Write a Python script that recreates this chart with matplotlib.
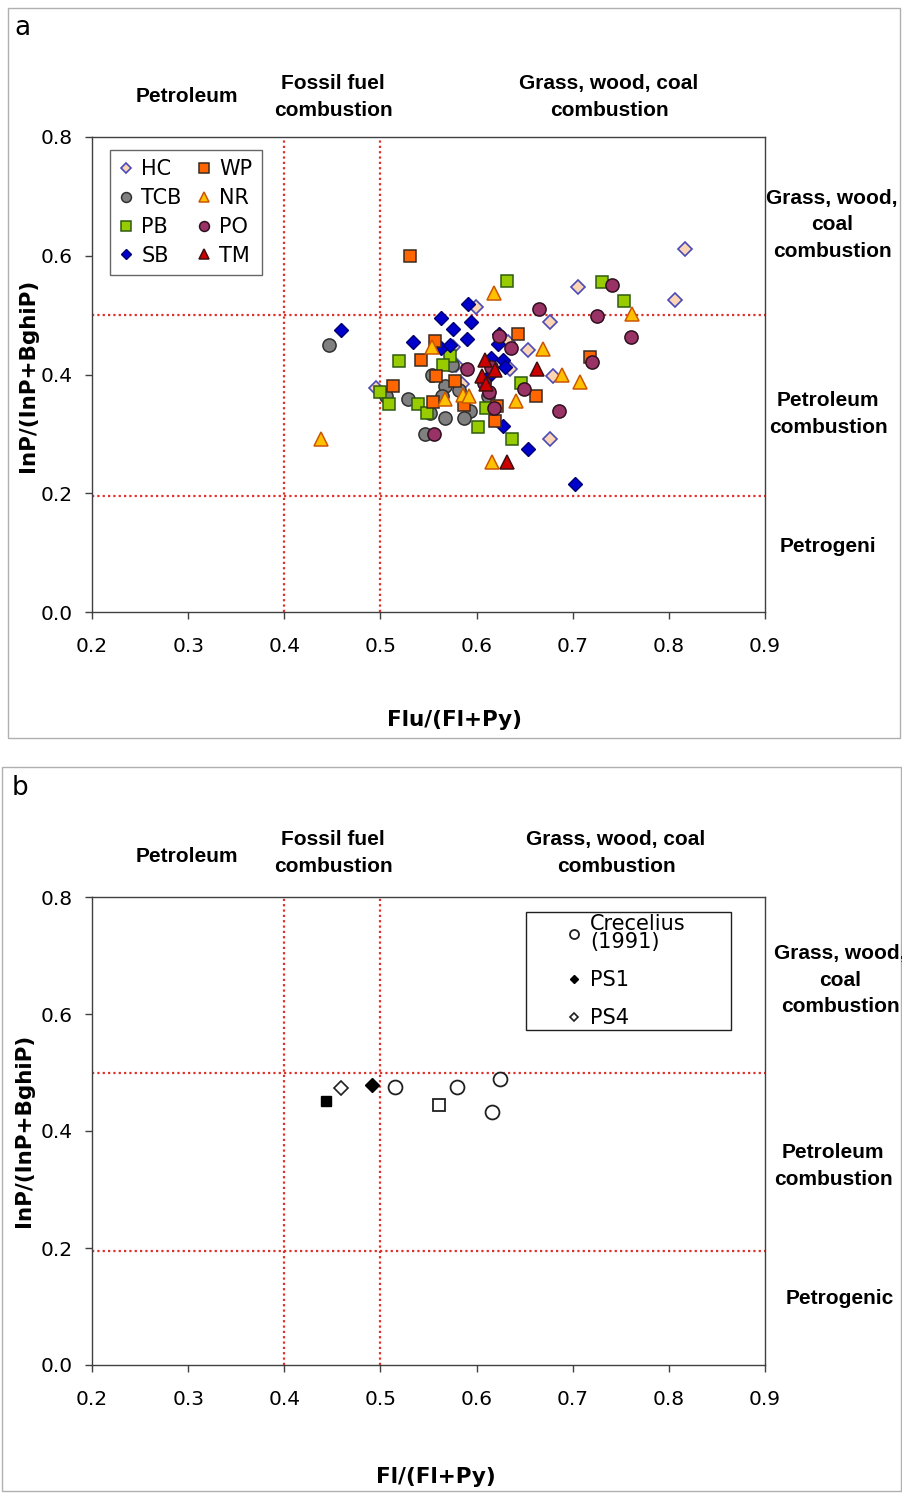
import matplotlib
matplotlib.use("Agg")
import matplotlib.pyplot as plt
from matplotlib.patches import Rectangle

# ---------------- Panel a data ----------------
hc_x = [0.599, 0.495, 0.633, 0.654, 0.676, 0.705, 0.635, 0.679, 0.676, 0.817, 0.806, 0.585, 0.576, 0.579]
hc_y = [0.513, 0.377, 0.454, 0.441, 0.489, 0.548, 0.409, 0.398, 0.291, 0.612, 0.525, 0.384, 0.447, 0.416]

wp_x = [0.531, 0.557, 0.542, 0.558, 0.578, 0.513, 0.555, 0.587, 0.643, 0.718, 0.662, 0.621, 0.619]
wp_y = [0.600, 0.457, 0.424, 0.397, 0.389, 0.381, 0.353, 0.348, 0.468, 0.430, 0.363, 0.347, 0.322]

tcb_x = [0.446, 0.574, 0.554, 0.567, 0.582, 0.506, 0.564, 0.529, 0.593, 0.552, 0.567, 0.587, 0.546, 0.612]
tcb_y = [0.449, 0.416, 0.399, 0.381, 0.374, 0.363, 0.363, 0.359, 0.338, 0.336, 0.327, 0.327, 0.300, 0.363]

nr_x = [0.438, 0.554, 0.567, 0.586, 0.592, 0.618, 0.762, 0.669, 0.689, 0.708, 0.641, 0.616]
nr_y = [0.292, 0.446, 0.359, 0.366, 0.364, 0.537, 0.502, 0.443, 0.399, 0.388, 0.356, 0.253]

pb_x = [0.572, 0.519, 0.565, 0.500, 0.509, 0.539, 0.548, 0.602, 0.632, 0.730, 0.753, 0.646, 0.610, 0.637]
pb_y = [0.432, 0.422, 0.416, 0.370, 0.351, 0.351, 0.336, 0.311, 0.558, 0.556, 0.523, 0.386, 0.344, 0.292]

po_x = [0.590, 0.556, 0.741, 0.725, 0.665, 0.761, 0.623, 0.636, 0.720, 0.608, 0.649, 0.613, 0.618, 0.686, 0.615]
po_y = [0.409, 0.299, 0.550, 0.499, 0.511, 0.463, 0.465, 0.445, 0.421, 0.385, 0.376, 0.370, 0.344, 0.339, 0.412]

sb_x = [0.591, 0.563, 0.594, 0.459, 0.575, 0.590, 0.534, 0.563, 0.572, 0.623, 0.622, 0.615, 0.628, 0.630, 0.613, 0.627, 0.653, 0.702]
sb_y = [0.519, 0.495, 0.489, 0.475, 0.476, 0.460, 0.454, 0.444, 0.449, 0.469, 0.451, 0.427, 0.425, 0.412, 0.398, 0.313, 0.275, 0.215]

tm_x = [0.609, 0.619, 0.606, 0.610, 0.663, 0.632]
tm_y = [0.425, 0.408, 0.397, 0.384, 0.409, 0.253]

# ---------------- Panel b data ----------------
crec_x = [0.515, 0.580, 0.624, 0.616]
crec_y = [0.475, 0.475, 0.489, 0.432]
ps1_x = [0.491]
ps1_y = [0.479]
ps4_x = [0.459]
ps4_y = [0.473]
fsq_x = [0.4435]
fsq_y = [0.451]
osq_x = [0.561]
osq_y = [0.444]

xticks = [0.2, 0.3, 0.4, 0.5, 0.6, 0.7, 0.8, 0.9]
yticks = [0.0, 0.2, 0.4, 0.6, 0.8]
vlines = [0.4, 0.5]
hlines = [0.5, 0.195]

W, H = 903, 1493
fig = plt.figure(figsize=(W / 100, H / 100), dpi=100)
fig.patch.set_facecolor("white")

def fx(px):
    return px / W

def fy(py):
    return 1 - py / H

# panel frames
fig.patches.append(Rectangle((fx(8), fy(738)), fx(892), (738 - 8) / H, transform=fig.transFigure,
                             fill=False, edgecolor="#b0b0b0", lw=1.0))
fig.patches.append(Rectangle((fx(2), fy(1491)), fx(899), (1491 - 767) / H, transform=fig.transFigure,
                             fill=False, edgecolor="#b0b0b0", lw=1.0))

tick_font = dict(family="DejaVu Sans", size=14.5)
ann_font = dict(family="Liberation Sans", weight="bold", size=15)
LS = 1.5

def setup_axes(ax):
    ax.set_xlim(0.2, 0.9)
    ax.set_ylim(0.0, 0.8)
    ax.set_xticks(xticks)
    ax.set_yticks(yticks)
    ax.set_xticklabels([f"{v:.1f}" for v in xticks], **tick_font)
    ax.set_yticklabels([f"{v:.1f}" for v in yticks], **tick_font)
    ax.tick_params(direction="out", length=5, width=1, color="#404040")
    ax.tick_params(axis="x", pad=13)
    ax.tick_params(axis="y", pad=9)
    for s in ax.spines.values():
        s.set_color("#404040")
        s.set_linewidth(1.0)
    for v in vlines:
        ax.axvline(v, color="#e0302a", lw=1.6, ls=(0, (1, 1.4)), zorder=1)
    for v in hlines:
        ax.axhline(v, color="#e0302a", lw=1.6, ls=(0, (1, 1.4)), zorder=1)

# ---------------- Panel a ----------------
ax1 = fig.add_axes([fx(92), fy(612), (765 - 92) / W, (612 - 137) / H])
setup_axes(ax1)
ms = 9
ax1.plot(hc_x, hc_y, "D", ms=7, mfc="#fcd5b4", mec="#4a4ab8", mew=1.2, ls="none", label="HC", zorder=3)
ax1.plot(tcb_x, tcb_y, "o", ms=ms + 0.5, mfc="#808080", mec="#303030", mew=1.1, ls="none", label="TCB", zorder=3)
ax1.plot(pb_x, pb_y, "s", ms=ms, mfc="#99cc00", mec="#2e5b10", mew=1.1, ls="none", label="PB", zorder=3)
ax1.plot(sb_x, sb_y, "D", ms=7, mfc="#0000cc", mec="#000070", mew=1.0, ls="none", label="SB", zorder=3)
ax1.plot(wp_x, wp_y, "s", ms=ms, mfc="#ff6600", mec="#3a2a20", mew=1.1, ls="none", label="WP", zorder=3)
ax1.plot(nr_x, nr_y, "^", ms=ms + 0.5, mfc="#ffc000", mec="#cc5500", mew=1.1, ls="none", label="NR", zorder=3)
ax1.plot(po_x, po_y, "o", ms=ms + 0.5, mfc="#993366", mec="#301020", mew=1.1, ls="none", label="PO", zorder=3)
ax1.plot(tm_x, tm_y, "^", ms=ms + 0.5, mfc="#cc0000", mec="#401010", mew=1.1, ls="none", label="TM", zorder=3)

leg1 = ax1.legend(loc="upper left", bbox_to_anchor=((110 - 92) / 673, (612 - 150) / 475), ncol=2,
                  prop=dict(family="DejaVu Sans", size=15), frameon=True, fancybox=False,
                  edgecolor="#404040", handlelength=0.6, handletextpad=0.45, columnspacing=0.75,
                  labelspacing=0.42, borderpad=0.45, markerscale=0.75, borderaxespad=0)
leg1.get_frame().set_linewidth(1.0)

fig.text(fx(14), fy(28), "a", family="DejaVu Sans", size=19, ha="left", va="center")
fig.text(fx(187), fy(97), "Petroleum", ha="center", va="center", **ann_font)
fig.text(fx(333), fy(97), "Fossil fuel\ncombustion", ha="center", va="center", linespacing=LS, **ann_font)
fig.text(fx(609), fy(97), "Grass, wood, coal\ncombustion", ha="center", va="center", linespacing=LS, **ann_font)
fig.text(fx(832), fy(225), "Grass, wood,\ncoal\ncombustion", ha="center", va="center", linespacing=LS, **ann_font)
fig.text(fx(828), fy(414), "Petroleum\ncombustion", ha="center", va="center", linespacing=LS, **ann_font)
fig.text(fx(828), fy(546), "Petrogeni", ha="center", va="center", **ann_font)
fig.text(fx(455), fy(720), "Flu/(Fl+Py)", ha="center", va="center", family="DejaVu Sans", weight="bold", size=15.5)
fig.text(fx(28), fy(375), "InP/(InP+BghiP)", ha="center", va="center", rotation=90,
         family="DejaVu Sans", weight="bold", size=15.5)

# ---------------- Panel b ----------------
ax2 = fig.add_axes([fx(92), fy(1365), (765 - 92) / W, (1365 - 897) / H])
setup_axes(ax2)
ax2.plot(crec_x, crec_y, "o", ms=10, mfc="white", mec="#202020", mew=1.3, ls="none", label="Crecelius\n(1991)", zorder=3)
ax2.plot(ps1_x, ps1_y, "D", ms=7, mfc="black", mec="black", mew=1.0, ls="none", label="PS1", zorder=3)
ax2.plot(ps4_x, ps4_y, "D", ms=7, mfc="white", mec="#202020", mew=1.2, ls="none", label="PS4", zorder=3)
ax2.plot(fsq_x, fsq_y, "s", ms=7, mfc="black", mec="black", ls="none", zorder=3)
ax2.plot(osq_x, osq_y, "s", ms=9, mfc="white", mec="#202020", mew=1.3, ls="none", zorder=3)

# legend box for panel b (fixed size as in the original)
fig.patches.append(Rectangle((fx(526), fy(1030)), (731 - 526) / W, (1030 - 912) / H,
                             transform=fig.transFigure, fill=False, edgecolor="#202020", lw=1.0, zorder=5))
leg2 = ax2.legend(loc="upper left", bbox_to_anchor=((568 - 92) / 673, (1365 - 914) / 468),
                  prop=dict(family="DejaVu Sans", size=15), frameon=False,
                  handlelength=0.6, handletextpad=0.45,
                  labelspacing=0.85, borderpad=0.0, markerscale=0.65, borderaxespad=0)
for t in leg2.get_texts():
    t.set_linespacing(0.9)

fig.text(fx(12), fy(788), "b", family="DejaVu Sans", size=19, ha="left", va="center")
fig.text(fx(187), fy(857), "Petroleum", ha="center", va="center", **ann_font)
fig.text(fx(333), fy(853), "Fossil fuel\ncombustion", ha="center", va="center", linespacing=LS, **ann_font)
fig.text(fx(616), fy(853), "Grass, wood, coal\ncombustion", ha="center", va="center", linespacing=LS, **ann_font)
fig.text(fx(840), fy(980), "Grass, wood,\ncoal\ncombustion", ha="center", va="center", linespacing=LS, **ann_font)
fig.text(fx(833), fy(1166), "Petroleum\ncombustion", ha="center", va="center", linespacing=LS, **ann_font)
fig.text(fx(840), fy(1299), "Petrogenic", ha="center", va="center", **ann_font)
fig.text(fx(436), fy(1477), "Fl/(Fl+Py)", ha="center", va="center", family="DejaVu Sans", weight="bold", size=15.5)
fig.text(fx(24), fy(1130), "InP/(InP+BghiP)", ha="center", va="center", rotation=90,
         family="DejaVu Sans", weight="bold", size=15.5)

fig.savefig("out.png", dpi=100, facecolor="white")
